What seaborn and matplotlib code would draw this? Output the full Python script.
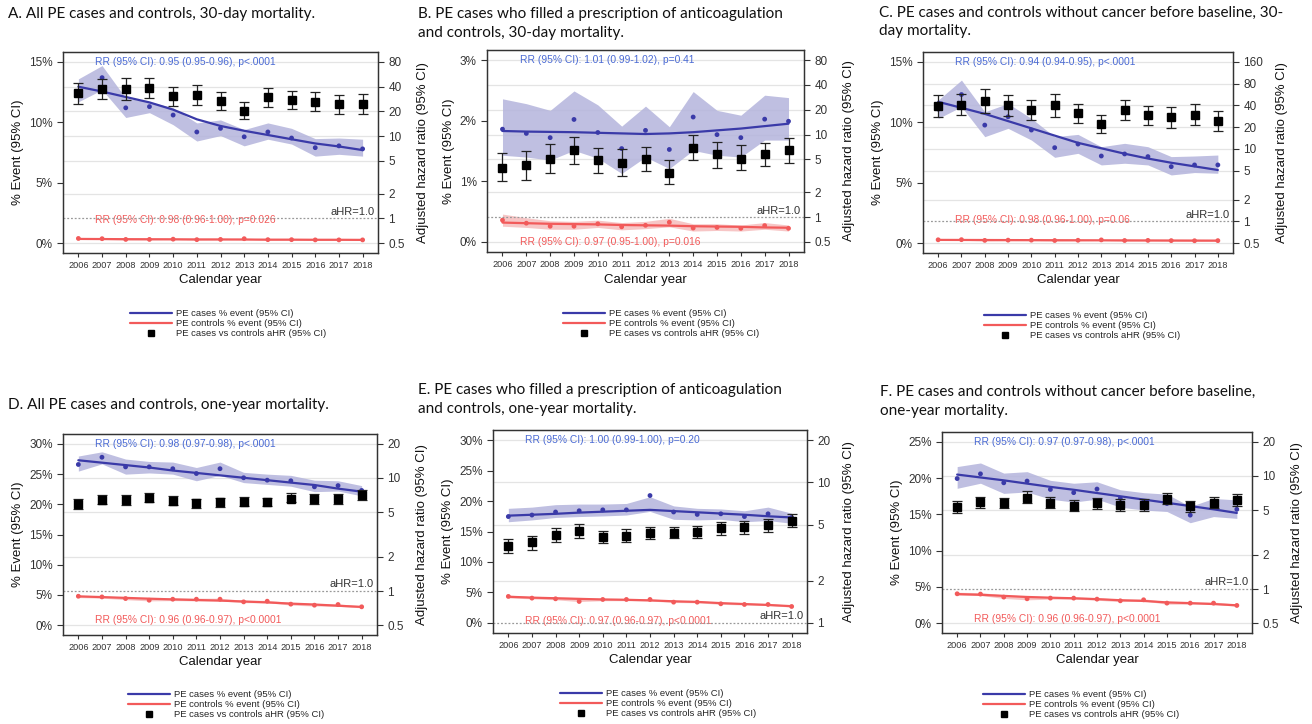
import matplotlib
matplotlib.use("Agg")
import matplotlib.pyplot as plt
import matplotlib.transforms as mtransforms
from matplotlib.lines import Line2D
import numpy as np
import pandas as pd
import seaborn as sns

W, H = 1312, 724
years = list(range(2006, 2019))

# ---- A. all PE, 30-day
a_case = [12.4, 13.7, 11.2, 11.3, 10.6, 9.2, 9.5, 8.8, 9.2, 8.7, 7.9, 8.05, 7.8]
a_case_hi = [13.6, 14.7, 12.0, 11.7, 11.2, 9.95, 10.2, 9.4, 9.95, 9.5, 8.65, 8.7, 8.6]
a_case_lo = [11.7, 12.7, 10.4, 10.8, 9.8, 8.45, 8.9, 8.05, 8.6, 8.2, 7.2, 7.35, 7.2]
a_case_fit = [12.95, 12.55, 12.1, 11.65, 11.05, 10.25, 9.7, 9.3, 8.95, 8.6, 8.25, 8.0, 7.7]
a_ctrl = [0.38, 0.36, 0.30, 0.30, 0.32, 0.28, 0.30, 0.36, 0.28, 0.28, 0.26, 0.26, 0.26]
a_ctrl_hi = [0.43, 0.41, 0.36, 0.36, 0.37, 0.34, 0.35, 0.41, 0.33, 0.33, 0.31, 0.31, 0.31]
a_ctrl_lo = [0.31, 0.30, 0.25, 0.25, 0.27, 0.23, 0.25, 0.30, 0.23, 0.23, 0.21, 0.21, 0.21]
a_ctrl_fit = [0.34, 0.33, 0.32, 0.315, 0.31, 0.30, 0.30, 0.29, 0.28, 0.28, 0.27, 0.27, 0.26]
a_hr = [33.3, 37.2, 37.5, 39.0, 30.4, 31.8, 26.9, 20.4, 29.8, 27.7, 26.2, 24.6, 24.6]
a_hr_lo = [24.8, 28.2, 27.8, 29.0, 23.5, 24.0, 20.6, 16.2, 22.4, 21.4, 20.0, 18.8, 18.8]
a_hr_hi = [44.0, 49.0, 50.5, 51.4, 39.4, 42.0, 34.3, 26.0, 38.3, 35.9, 34.3, 31.8, 32.4]

# ---- B. anticoagulation, 30-day
b_case = [1.86, 1.79, 1.72, 2.02, 1.805, 1.54, 1.84, 1.525, 2.06, 1.77, 1.72, 2.025, 1.99]
b_case_hi = [2.36, 2.28, 2.17, 2.49, 2.26, 1.91, 2.24, 1.90, 2.48, 2.17, 2.09, 2.42, 2.38]
b_case_lo = [1.43, 1.40, 1.35, 1.51, 1.38, 1.13, 1.40, 1.21, 1.51, 1.43, 1.40, 1.68, 1.68]
b_case_fit = [1.83, 1.82, 1.815, 1.81, 1.80, 1.79, 1.78, 1.79, 1.81, 1.84, 1.87, 1.91, 1.95]
b_ctrl = [0.36, 0.31, 0.26, 0.26, 0.30, 0.25, 0.275, 0.325, 0.23, 0.24, 0.225, 0.27, 0.225]
b_ctrl_hi = [0.46, 0.40, 0.35, 0.34, 0.36, 0.32, 0.34, 0.39, 0.30, 0.30, 0.28, 0.32, 0.28]
b_ctrl_lo = [0.26, 0.24, 0.21, 0.21, 0.24, 0.20, 0.22, 0.25, 0.18, 0.19, 0.18, 0.21, 0.18]
b_ctrl_fit = [0.32, 0.31, 0.30, 0.295, 0.29, 0.28, 0.275, 0.27, 0.26, 0.255, 0.25, 0.24, 0.235]
b_hr = [3.95, 4.26, 5.13, 6.53, 4.9, 4.54, 5.03, 3.47, 6.97, 5.74, 5.13, 5.74, 6.47]
b_hr_lo = [2.75, 2.8, 3.43, 4.46, 3.43, 3.13, 3.6, 2.5, 4.9, 3.99, 3.7, 4.14, 4.54]
b_hr_hi = [5.9, 6.35, 7.6, 9.4, 6.97, 6.6, 7.1, 4.9, 10.0, 8.2, 7.4, 7.9, 8.97]

# ---- C. without cancer, 30-day
c_case = [11.1, 12.3, 9.77, 10.46, 9.36, 7.9, 8.2, 7.21, 7.38, 7.16, 6.33, 6.47, 6.47]
c_case_hi = [11.84, 13.5, 10.87, 11.56, 10.32, 8.81, 9.0, 7.98, 8.26, 7.98, 7.16, 7.21, 7.29]
c_case_lo = [10.32, 11.29, 8.81, 9.5, 8.53, 7.1, 7.43, 6.47, 6.61, 6.47, 5.64, 5.84, 5.78]
c_case_fit = [11.7, 11.2, 10.7, 10.1, 9.5, 8.9, 8.3, 7.85, 7.4, 7.0, 6.65, 6.35, 6.05]
c_ctrl = [0.27, 0.28, 0.22, 0.24, 0.24, 0.21, 0.23, 0.26, 0.21, 0.22, 0.20, 0.19, 0.20]
c_ctrl_hi = [0.32, 0.33, 0.27, 0.29, 0.29, 0.26, 0.28, 0.31, 0.26, 0.27, 0.25, 0.24, 0.25]
c_ctrl_lo = [0.22, 0.23, 0.17, 0.19, 0.19, 0.16, 0.18, 0.21, 0.16, 0.17, 0.15, 0.14, 0.15]
c_ctrl_fit = [0.26, 0.255, 0.25, 0.245, 0.24, 0.235, 0.23, 0.225, 0.22, 0.215, 0.21, 0.205, 0.20]
c_hr = [39.5, 40.4, 45.9, 40.4, 34.4, 41.2, 31.0, 22.1, 34.4, 29.4, 27.9, 30.0, 24.6]
c_hr_lo = [27.9, 29.4, 31.6, 28.5, 25.1, 27.9, 22.6, 16.4, 25.1, 21.4, 19.7, 21.4, 17.9]
c_hr_hi = [55.5, 57.3, 67.1, 56.5, 47.3, 57.3, 41.7, 29.4, 47.3, 39.5, 38.3, 42.6, 33.4]

# ---- D. all PE, one-year
d_case = [26.6, 27.8, 26.2, 26.2, 25.9, 25.1, 25.9, 24.4, 24.0, 23.9, 22.9, 23.1, 22.3]
d_case_hi = [28.0, 28.7, 27.5, 27.1, 27.0, 26.1, 27.0, 25.3, 25.0, 24.8, 24.0, 23.9, 23.1]
d_case_lo = [25.5, 26.7, 25.0, 25.2, 25.0, 23.9, 24.8, 23.6, 23.3, 23.0, 22.1, 22.2, 21.4]
d_case_fit = [27.3, 26.9, 26.5, 26.1, 25.6, 25.2, 24.8, 24.4, 24.0, 23.6, 23.2, 22.6, 22.1]
d_ctrl = [4.77, 4.66, 4.39, 4.11, 4.28, 4.28, 4.28, 3.84, 3.95, 3.46, 3.29, 3.40, 3.02]
d_ctrl_hi = [4.95, 4.85, 4.65, 4.45, 4.5, 4.45, 4.45, 4.1, 4.1, 3.75, 3.55, 3.5, 3.2]
d_ctrl_lo = [4.55, 4.45, 4.2, 4.0, 4.05, 4.0, 4.0, 3.7, 3.7, 3.3, 3.15, 3.1, 2.85]
d_ctrl_fit = [4.75, 4.63, 4.50, 4.37, 4.25, 4.15, 4.05, 3.90, 3.75, 3.55, 3.40, 3.20, 3.00]
d_hr = [5.86, 6.36, 6.36, 6.71, 6.27, 5.98, 6.07, 6.17, 6.12, 6.57, 6.49, 6.49, 7.04]
d_hr_lo = [5.37, 5.86, 5.74, 6.15, 5.74, 5.48, 5.57, 5.67, 5.62, 6.07, 5.94, 5.94, 6.4]
d_hr_hi = [6.49, 7.04, 7.04, 7.43, 6.93, 6.57, 6.67, 6.85, 6.71, 7.32, 7.2, 7.2, 7.83]

# ---- E. anticoagulation, one-year
e_case = [17.45, 17.7, 18.2, 18.4, 18.55, 18.55, 20.9, 18.2, 17.8, 17.9, 17.45, 17.9, 17.3]
e_case_hi = [18.8, 19.0, 19.4, 19.5, 19.5, 19.6, 20.7, 19.2, 18.8, 18.7, 18.4, 19.0, 18.0]
e_case_lo = [16.6, 16.9, 17.3, 17.45, 17.55, 17.7, 18.3, 17.0, 16.9, 17.0, 16.6, 16.8, 16.35]
e_case_fit = [17.6, 17.75, 17.9, 18.1, 18.25, 18.4, 18.55, 18.35, 18.15, 17.95, 17.75, 17.5, 17.3]
e_ctrl = [4.35, 4.07, 3.96, 3.52, 3.85, 3.85, 3.85, 3.41, 3.41, 3.14, 3.03, 3.03, 2.70]
e_ctrl_hi = [4.55, 4.35, 4.25, 4.15, 4.05, 4.0, 3.95, 3.7, 3.65, 3.4, 3.25, 3.2, 2.9]
e_ctrl_lo = [4.1, 3.95, 3.8, 3.5, 3.65, 3.65, 3.6, 3.35, 3.3, 3.05, 2.95, 2.85, 2.6]
e_ctrl_fit = [4.30, 4.15, 4.05, 3.95, 3.85, 3.80, 3.70, 3.55, 3.45, 3.25, 3.10, 2.95, 2.75]
e_hr = [3.52, 3.74, 4.22, 4.53, 4.06, 4.15, 4.34, 4.39, 4.41, 4.71, 4.79, 4.98, 5.35]
e_hr_lo = [3.16, 3.33, 3.78, 4.04, 3.68, 3.76, 3.95, 4.0, 4.0, 4.22, 4.29, 4.46, 4.84]
e_hr_hi = [3.95, 4.18, 4.71, 5.06, 4.53, 4.63, 4.79, 4.84, 4.90, 5.26, 5.35, 5.5, 5.94]

# ---- F. without cancer, one-year
f_case = [19.95, 20.6, 19.36, 19.6, 18.44, 18.0, 18.5, 17.2, 16.7, 16.5, 14.9, 16.0, 15.7]
f_case_hi = [21.6, 22.1, 20.7, 20.9, 19.7, 19.3, 19.5, 18.4, 18.0, 17.8, 16.1, 17.2, 17.0]
f_case_lo = [18.6, 19.3, 17.9, 18.1, 17.1, 16.7, 17.1, 16.0, 15.6, 15.4, 13.85, 14.7, 14.45]
f_case_fit = [20.5, 20.1, 19.7, 19.25, 18.8, 18.4, 17.95, 17.5, 17.05, 16.6, 16.15, 15.7, 15.2]
f_ctrl = [4.04, 4.00, 3.58, 3.35, 3.44, 3.44, 3.30, 3.07, 3.21, 2.75, 2.75, 2.75, 2.43]
f_ctrl_hi = [4.25, 4.2, 3.9, 3.75, 3.65, 3.6, 3.5, 3.3, 3.35, 2.95, 2.9, 2.9, 2.6]
f_ctrl_lo = [3.85, 3.8, 3.4, 3.2, 3.3, 3.3, 3.15, 2.95, 3.05, 2.6, 2.6, 2.6, 2.3]
f_ctrl_fit = [4.00, 3.90, 3.75, 3.60, 3.50, 3.42, 3.30, 3.15, 3.05, 2.85, 2.75, 2.62, 2.45]
f_hr = [5.27, 5.83, 5.78, 6.45, 5.78, 5.41, 5.72, 5.52, 5.52, 6.2, 5.41, 5.78, 6.12]
f_hr_lo = [4.67, 5.16, 5.16, 5.72, 5.16, 4.89, 5.1, 4.94, 4.94, 5.6, 4.83, 5.16, 5.41]
f_hr_hi = [5.99, 6.54, 6.45, 7.34, 6.54, 6.12, 6.41, 6.2, 6.2, 7.1, 6.04, 6.54, 6.91]

titles = {
    "A": ["A. All PE cases and controls, 30-day mortality."],
    "B": ["B. PE cases who filled a prescription of anticoagulation", "and controls, 30-day mortality."],
    "C": ["C. PE cases and controls without cancer before baseline, 30-", "day mortality."],
    "D": ["D. All PE cases and controls, one-year mortality."],
    "E": ["E. PE cases who filled a prescription of anticoagulation", "and controls, one-year mortality."],
    "F": ["F. PE cases and controls without cancer before baseline,", "one-year mortality."],
}
rr_case_txt = {
    "A": "RR (95% CI): 0.95 (0.95-0.96), p<.0001",
    "B": "RR (95% CI): 1.01 (0.99-1.02), p=0.41",
    "C": "RR (95% CI): 0.94 (0.94-0.95), p<.0001",
    "D": "RR (95% CI): 0.98 (0.97-0.98), p<.0001",
    "E": "RR (95% CI): 1.00 (0.99-1.00), p=0.20",
    "F": "RR (95% CI): 0.97 (0.97-0.98), p<.0001",
}
rr_ctrl_txt = {
    "A": "RR (95% CI): 0.98 (0.96-1.00), p=0.026",
    "B": "RR (95% CI): 0.97 (0.95-1.00), p=0.016",
    "C": "RR (95% CI): 0.98 (0.96-1.00), p=0.06",
    "D": "RR (95% CI): 0.96 (0.96-0.97), p<0.0001",
    "E": "RR (95% CI): 0.97 (0.96-0.97), p<0.0001",
    "F": "RR (95% CI): 0.96 (0.96-0.97), p<0.0001",
}
rr_ctrl_y = {"A": 1.9, "B": 0.0, "C": 1.93, "D": 0.8, "E": 0.4, "F": 0.55}
pct_ticks = {"A": [0, 5, 10, 15], "B": [0, 1, 2, 3], "C": [0, 5, 10, 15],
             "D": [0, 5, 10, 15, 20, 25, 30], "E": [0, 5, 10, 15, 20, 25, 30],
             "F": [0, 5, 10, 15, 20, 25]}
hr_ticks = {"A": [0.5, 1, 2, 5, 10, 20, 40, 80], "B": [0.5, 1, 2, 5, 10, 20, 40, 80],
            "C": [0.5, 1, 2, 5, 10, 20, 40, 80, 160], "D": [0.5, 1, 2, 5, 10, 20],
            "E": [1, 2, 5, 10, 20], "F": [0.5, 1, 2, 5, 10, 20]}

series = {
    "A": (a_case, a_case_lo, a_case_hi, a_case_fit, a_ctrl, a_ctrl_lo, a_ctrl_hi, a_ctrl_fit, a_hr, a_hr_lo, a_hr_hi),
    "B": (b_case, b_case_lo, b_case_hi, b_case_fit, b_ctrl, b_ctrl_lo, b_ctrl_hi, b_ctrl_fit, b_hr, b_hr_lo, b_hr_hi),
    "C": (c_case, c_case_lo, c_case_hi, c_case_fit, c_ctrl, c_ctrl_lo, c_ctrl_hi, c_ctrl_fit, c_hr, c_hr_lo, c_hr_hi),
    "D": (d_case, d_case_lo, d_case_hi, d_case_fit, d_ctrl, d_ctrl_lo, d_ctrl_hi, d_ctrl_fit, d_hr, d_hr_lo, d_hr_hi),
    "E": (e_case, e_case_lo, e_case_hi, e_case_fit, e_ctrl, e_ctrl_lo, e_ctrl_hi, e_ctrl_fit, e_hr, e_hr_lo, e_hr_hi),
    "F": (f_case, f_case_lo, f_case_hi, f_case_fit, f_ctrl, f_ctrl_lo, f_ctrl_hi, f_ctrl_fit, f_hr, f_hr_lo, f_hr_hi),
}

# layout in pixels: axes box (left, top, right, bottom), title xy, legend xy
boxes = {"A": (63, 52, 378, 253), "B": (487, 50, 804, 252), "C": (923, 52, 1233, 253),
         "D": (63, 434, 377, 635), "E": (493, 430, 807, 633), "F": (942, 432, 1252, 633)}
title_pos = {"A": (8, 14), "B": (418, 14), "C": (879, 13),
             "D": (8, 405), "E": (418, 390), "F": (880, 392)}
legend_pos = {"A": (130, 309), "B": (563, 309), "C": (984, 311),
              "D": (128, 690), "E": (560, 689), "F": (983, 690)}

BLUE = "#3a3aa8"
BLUE_BAND = "#b4b4dc"
BLUE_TXT = "#4a6ad4"
RED = "#f25a5a"
RED_BAND = "#f6bcbc"
DARK = "#333333"

sns.set_style("white")
plt.rcParams["font.family"] = ["Liberation Sans", "DejaVu Sans"]

fig = plt.figure(figsize=(W / 100, H / 100), dpi=100)

for key in "ABCDEF":
    case, case_lo, case_hi, case_fit, ctrl, ctrl_lo, ctrl_hi, ctrl_fit, hr, hr_lo, hr_hi = series[key]
    l, t, r, b = boxes[key]
    ax = fig.add_axes([l / W, 1 - b / H, (r - l) / W, (b - t) / H])
    ax2 = ax.twinx()

    pt = pct_ticks[key]
    ht = hr_ticks[key]
    m = 0.055
    span = pt[-1] - pt[0]
    ax.set_ylim(pt[0] - m * span, pt[-1] + m * span)
    lmin, lmax = np.log10(ht[0]), np.log10(ht[-1])
    lspan = lmax - lmin
    ax2.set_yscale("log")
    ax2.set_ylim(10 ** (lmin - m * lspan), 10 ** (lmax + m * lspan))
    ax.set_xlim(2005.35, 2018.65)

    # grid lines follow the hazard-ratio ticks
    for v in ht:
        if v == 1:
            continue
        ax.axhline(pt[0] + (np.log10(v) - lmin) / lspan * span, color="#e4e4e4", lw=0.9, zorder=0)

    df = pd.DataFrame({"year": years, "case": case, "case_fit": case_fit,
                       "ctrl": ctrl, "ctrl_fit": ctrl_fit})
    ax.fill_between(years, case_lo, case_hi, color=BLUE_BAND, alpha=0.85, lw=0, zorder=1)
    ax.fill_between(years, ctrl_lo, ctrl_hi, color=RED_BAND, alpha=0.85, lw=0, zorder=1)
    sns.lineplot(data=df, x="year", y="case_fit", ax=ax, color=BLUE, lw=1.6, zorder=3)
    sns.lineplot(data=df, x="year", y="ctrl_fit", ax=ax, color=RED, lw=1.6, zorder=3)
    sns.scatterplot(data=df, x="year", y="case", ax=ax, color=BLUE, s=12, edgecolor="none", zorder=4)
    sns.scatterplot(data=df, x="year", y="ctrl", ax=ax, color=RED, s=12, edgecolor="none", zorder=4)

    hr_arr = np.array(hr)
    yerr = [hr_arr - np.array(hr_lo), np.array(hr_hi) - hr_arr]
    ax2.errorbar(years, hr, yerr=yerr, fmt="s", color="black", ms=5.5, ecolor="#222222",
                 elinewidth=0.9, capsize=3.5, capthick=0.9, zorder=5)
    ax2.axhline(1, color="#999999", lw=0.9, ls=(0, (1.5, 1.5)), zorder=2)
    trans = mtransforms.blended_transform_factory(ax2.transAxes, ax2.transData)
    ax2.text(0.99, 1.04, "aHR=1.0", transform=trans, ha="right", va="bottom",
             fontsize=8, color=DARK)

    ax.set_yticks(pt)
    ax.set_yticklabels([f"{v}%" for v in pt])
    ax2.set_yticks(ht)
    ax2.set_yticklabels([f"{v:g}" for v in ht])
    ax2.yaxis.set_minor_locator(matplotlib.ticker.NullLocator())
    ax.set_xticks(years)
    ax.set_xticklabels([str(y) for y in years])

    ax.tick_params(axis="y", labelsize=8.5, colors=DARK, length=4, width=0.8, left=True)
    ax2.tick_params(axis="y", labelsize=8.5, colors=DARK, length=4, width=0.8, right=True)
    ax.tick_params(axis="x", labelsize=6.6, colors=DARK, length=3, width=0.8, bottom=True, pad=3)
    for sp in ax.spines.values():
        sp.set_color(DARK)
        sp.set_linewidth(0.9)
    for sp in ax2.spines.values():
        sp.set_color(DARK)
        sp.set_linewidth(0.9)

    ax.set_xlabel("Calendar year", fontsize=9.5, labelpad=3, color="#111111")
    ax.set_ylabel("% Event (95% CI)", fontsize=9.5, labelpad=3.5, color="#111111")
    ax2.set_ylabel("Adjusted hazard ratio (95% CI)", fontsize=9.5, labelpad=9, color="#111111")

    ax.text(2006.72, pt[-1], rr_case_txt[key], color=BLUE_TXT, fontsize=7.4, va="center", ha="left")
    ax.text(2006.72, rr_ctrl_y[key], rr_ctrl_txt[key], color=RED, fontsize=7.4, va="center", ha="left")

    tx, ty = title_pos[key]
    for i, line in enumerate(titles[key]):
        fig.text(tx / W, 1 - (ty + 18.5 * i) / H, line, fontsize=11, family=["Lato", "DejaVu Sans"],
                 ha="left", va="center", color="#111111")

    handles = [Line2D([], [], color=BLUE, lw=1.6),
               Line2D([], [], color=RED, lw=1.6),
               Line2D([], [], color="black", marker="s", ls="none", ms=5)]
    labels = ["PE cases % event (95% CI)", "PE controls % event (95% CI)",
              "PE cases vs controls aHR (95% CI)"]
    lx, ly = legend_pos[key]
    fig.legend(handles, labels, loc="upper left", bbox_to_anchor=(lx / W, 1 - ly / H),
               frameon=False, fontsize=6.8, handlelength=4.4, handletextpad=0.45,
               labelspacing=0.1, borderpad=0, borderaxespad=0)

fig.savefig("out.png", dpi=100)
